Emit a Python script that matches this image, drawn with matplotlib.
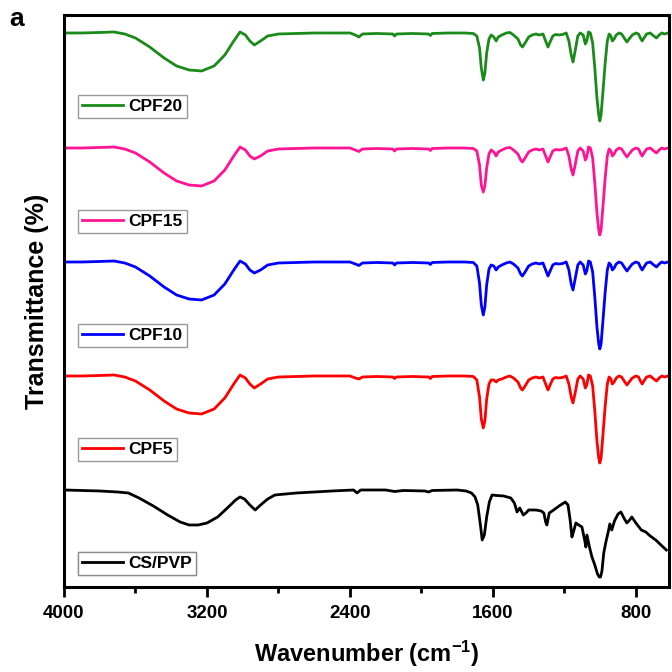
import matplotlib
matplotlib.use("Agg")
import matplotlib.pyplot as plt
from matplotlib.ticker import MultipleLocator

plt.rcParams['font.family'] = ['Liberation Sans', 'DejaVu Sans']
plt.rcParams['font.weight'] = 'bold'
plt.rcParams['mathtext.fontset'] = 'custom'
plt.rcParams['mathtext.rm'] = 'Liberation Sans:bold'
plt.rcParams['mathtext.bf'] = 'Liberation Sans:bold'
plt.rcParams['mathtext.it'] = 'Liberation Sans:bold'

# ---------------- data ----------------
series_names = ["CPF20", "CPF15", "CPF10", "CPF5", "CS/PVP"]
series_colors = ["#1a8a1a", "#ff1493", "#0000ff", "#ff0000", "#000000"]

# common wavenumber grid for the CPF spectra (cm-1)
wn_cpf = [4000, 3900, 3800, 3720, 3660, 3600, 3520, 3440, 3370, 3300, 3230, 3160, 3100, 3050,
          3015, 2985, 2960, 2935, 2900, 2860, 2800, 2700, 2600, 2500, 2400, 2370, 2350, 2330,
          2250, 2160, 2150, 2140, 2050, 1960, 1950, 1940, 1850, 1760, 1710, 1690, 1675, 1665,
          1654, 1645, 1635, 1622, 1610, 1595, 1582, 1570, 1550, 1525, 1505, 1485, 1460, 1445,
          1435, 1420, 1400, 1380, 1360, 1340, 1320, 1305, 1292, 1280, 1265, 1250, 1230, 1210,
          1190, 1175, 1162, 1152, 1140, 1125, 1112, 1095, 1083, 1075, 1065, 1055, 1042, 1030,
          1018, 1008, 1002, 995, 985, 972, 960, 950, 940, 932, 922, 910, 895, 880, 862, 850,
          838, 820, 800, 785, 775, 765, 755, 740, 720, 700, 685, 670, 655, 640, 620]

# transmittance (a.u., offset-stacked)
t_cpf20 = [554, 554, 554.5, 555, 553, 549, 540, 529, 521, 517, 516, 521, 532, 546,
           555, 552, 546, 542, 546, 551, 553, 553.5, 554, 554, 554, 552, 550, 553,
           553.5, 553, 551, 553, 553.5, 553, 551.5, 553.5, 554, 554, 553.5, 551, 539, 519,
           507, 514, 534, 548, 552, 550, 546, 550, 552, 554, 554.5, 552, 548, 542,
           540, 544, 550, 552, 553, 552, 553, 546, 540, 545, 551, 552.5, 552, 552.5,
           554, 546, 532, 525, 536, 551, 554, 552, 543, 546, 555, 554, 544, 519,
           489, 472, 466, 472, 494, 524, 546, 553, 551, 546, 548, 552, 554, 553, 548, 545,
           548, 552, 554, 553, 549, 546, 549, 553, 554, 551, 549, 552, 554, 553, 554]

t_cpf15 = [439, 439, 439.5, 440, 438, 434, 425, 414, 406, 402, 401, 406, 417, 431,
           440, 437, 431, 428, 431, 436, 438, 438.5, 439, 439, 439, 437, 435.5, 438,
           438.5, 438, 436, 438, 438.5, 438, 436.5, 438.5, 439, 439, 438.5, 436, 422, 402,
           395, 401, 419, 433, 437, 435, 431, 435, 437, 439, 439.5, 437, 433, 427,
           425, 429, 435, 437, 438, 437, 438, 431, 425, 430, 436, 437.5, 437, 437.5,
           439, 431, 418, 412, 422, 436, 439, 436, 427, 430, 440, 439, 429, 404,
           374, 357, 352, 357, 379, 409, 431, 438, 436, 431, 433, 437, 439, 438, 433, 430,
           433, 437, 439, 438, 434, 431, 434, 438, 439, 436, 434, 437, 439, 438, 439]

t_cpf10 = [325, 325, 325.5, 326, 324, 320, 311, 300, 292, 288, 287, 292, 303, 317,
           326, 323, 317, 314, 317, 322, 324, 324.5, 325, 325, 325, 323, 321.5, 324,
           324.5, 324, 322, 324, 324.5, 324, 322.5, 324.5, 325, 325, 324.5, 321, 304, 282,
           272, 280, 302, 318, 322, 321, 317, 320, 322, 324, 325, 323, 319, 313,
           311, 315, 321, 323, 324, 323, 324, 317, 311, 316, 322, 323.5, 323, 323.5,
           325, 317, 303, 297, 308, 322, 325, 322, 313, 316, 326, 325, 315, 290,
           260, 243, 238, 243, 265, 295, 317, 324, 322, 317, 319, 323, 325, 324, 319, 316,
           319, 323, 325, 324, 320, 317, 320, 324, 325, 322, 320, 323, 325, 324, 325]

t_cpf5 = [211, 211, 211.5, 212, 210, 206, 197, 186, 178, 174, 173, 178, 189, 203,
          212, 209, 203, 199, 203, 208, 210, 210.5, 211, 211, 211, 209, 208, 210,
          210.5, 210, 208.5, 210, 210.5, 210, 208.5, 210.5, 211, 211, 210.5, 207, 190, 168,
          159, 166, 188, 203, 207, 207, 205, 207, 208, 210, 211, 209, 205, 199,
          197, 201, 207, 209, 210, 209, 210, 203, 197, 202, 208, 209.5, 209, 209.5,
          211, 203, 190, 184, 194, 208, 211, 208, 199, 202, 212, 211, 201, 176,
          146, 129, 124, 129, 151, 181, 203, 210, 208, 203, 205, 209, 211, 210, 205, 202,
          205, 209, 211, 210, 206, 203, 206, 210, 211, 208, 206, 209, 211, 210, 211]

wn_cspvp = [4000, 3900, 3800, 3700, 3640, 3580, 3500, 3420, 3350, 3300, 3250, 3200, 3140,
            3080, 3040, 3015, 2990, 2960, 2930, 2900, 2860, 2820, 2700, 2600, 2500, 2380,
            2360, 2340, 2200, 2150, 2100, 1980, 1960, 1940, 1800, 1750, 1720, 1700, 1685,
            1670, 1660, 1648, 1635, 1620, 1605, 1580, 1540, 1500, 1480, 1465, 1450, 1430,
            1415, 1400, 1380, 1359, 1330, 1315, 1305, 1298, 1285, 1260, 1230, 1195, 1180,
            1168, 1158, 1148, 1136, 1120, 1102, 1088, 1080, 1074, 1060, 1046, 1030, 1015,
            1005, 998, 990, 980, 968, 955, 946, 935, 920, 900, 884, 870, 851, 835, 823,
            800, 770, 745, 720, 689, 660, 630]
t_cspvp = [97, 96.5, 96, 95, 94, 89, 81, 72, 65, 62, 62, 64, 70,
           80, 87, 90, 88, 82, 77, 82, 88, 92, 94, 95, 96, 97,
           94, 97, 97, 95.5, 96.5, 96, 95, 96.5, 97, 96, 94, 90, 82,
           62, 47, 52, 70, 85, 92, 91.5, 91, 89, 84, 75, 79, 72,
           74, 77, 77, 77, 76, 74, 65, 62, 74, 77, 81, 85, 82,
           67, 50, 56, 64, 62, 60, 48, 40, 52, 40, 30, 22, 13,
           10, 10, 16, 34, 45, 55, 63, 57, 66, 73, 75, 70, 64, 67, 70,
           64, 57, 55, 51, 47, 42, 37]

# legend box top positions (axes fraction)
legend_tops = [0.860, 0.659, 0.460, 0.260, 0.061]

# ---------------- plot ----------------
fig = plt.figure(figsize=(6.72, 6.72), dpi=100)
ax = fig.add_axes([0.0952, 0.1265, 0.9003, 0.8512])

all_wn = [wn_cpf, wn_cpf, wn_cpf, wn_cpf, wn_cspvp]
all_t = [t_cpf20, t_cpf15, t_cpf10, t_cpf5, t_cspvp]
lines = []
for name, color, w, t in zip(series_names, series_colors, all_wn, all_t):
    ln, = ax.plot(w, t, color=color, lw=2.0, label=name, solid_joinstyle='round')
    lines.append(ln)

ax.set_xlim(4000, 615)
ax.set_ylim(0, 572)
ax.xaxis.set_major_locator(MultipleLocator(800))
ax.xaxis.set_minor_locator(MultipleLocator(400))
ax.set_yticks([])
ax.tick_params(axis='x', which='major', direction='out', length=7, width=2,
               labelsize=13.5, pad=6)
ax.tick_params(axis='x', which='minor', direction='out', length=4, width=2)
for lbl in ax.get_xticklabels():
    lbl.set_fontweight('bold')
for sp in ax.spines.values():
    sp.set_linewidth(2.2)

ax.set_xlabel(r'Wavenumber (cm$^{-1}$)', fontsize=17, fontweight='bold', labelpad=12)
ax.set_ylabel('Transmittance (%)', fontsize=18, fontweight='bold', labelpad=11)

for ln, top in zip(lines, legend_tops):
    leg = ax.legend(handles=[ln], loc='upper left', bbox_to_anchor=(0.023, top),
                    frameon=True, fancybox=False, edgecolor='#808080',
                    prop={'weight': 'bold', 'size': 12.5}, handlelength=2.4,
                    handletextpad=0.3, borderpad=0.22, borderaxespad=0)
    leg.get_frame().set_linewidth(1.0)
    ax.add_artist(leg)

fig.text(0.014, 0.962, 'a', fontsize=19, fontweight='bold', va='baseline')

fig.savefig('out.png', dpi=100)
